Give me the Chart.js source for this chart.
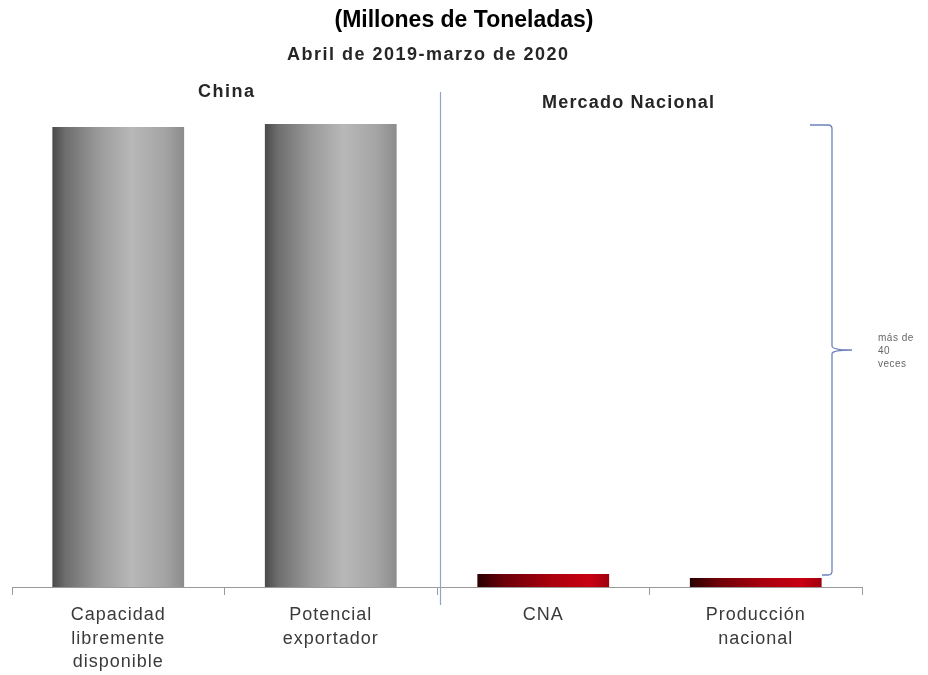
<!DOCTYPE html>
<html>
<head>
<meta charset="utf-8">
<script src="https://cdn.jsdelivr.net/npm/chart.js@4.4.1/dist/chart.umd.min.js"></script>
<style>
  html, body { margin: 0; padding: 0; background: #ffffff; }
  #wrap { width: 928px; height: 675px; position: relative; }
</style>
</head>
<body>
<div id="wrap"><canvas id="c" width="928" height="675"></canvas></div>
<script>
// ---- data ----
const categories = [
  ['Capacidad', 'libremente', 'disponible'],
  ['Potencial', 'exportador'],
  ['CNA'],
  ['Producción', 'nacional']
];
const groups = ['China', 'China', 'Mercado Nacional', 'Mercado Nacional'];
const values = [46.0, 46.3, 1.3, 0.9];   // millones de toneladas (estimated)
const titleText = '(Millones de Toneladas)';
const subtitleText = 'Abril de 2019-marzo de 2020';
const groupLabels = ['China', 'Mercado Nacional'];
const braceText = ['más de', '40', 'veces'];
const yMax = 50;

const BAR_PCT = 0.62;
const FONT = "'Liberation Sans', Arial, sans-serif";

function barFill(context) {
  const chart = context.chart;
  if (!chart.chartArea) return '#888';
  const xs = chart.scales.x;
  const cx = xs.getPixelForValue(context.dataIndex);
  const w = (xs.width / categories.length) * BAR_PCT;
  const g = chart.ctx.createLinearGradient(cx - w / 2, 0, cx + w / 2, 0);
  if (groups[context.dataIndex] === 'China') {
    g.addColorStop(0.00, '#4a4a4a');
    g.addColorStop(0.10, '#6e6e6e');
    g.addColorStop(0.35, '#9a9a9a');
    g.addColorStop(0.60, '#b8b8b8');
    g.addColorStop(0.85, '#a4a4a4');
    g.addColorStop(1.00, '#8c8c8c');
  } else {
    g.addColorStop(0.00, '#2a0000');
    g.addColorStop(0.20, '#6a0008');
    g.addColorStop(0.55, '#a8000e');
    g.addColorStop(0.85, '#c80012');
    g.addColorStop(1.00, '#a0000e');
  }
  return g;
}

const decor = {
  id: 'decor',
  beforeDraw(chart) {
    chart.ctx.letterSpacing = '1px';
  },
  afterDraw(chart) {
    const ctx = chart.ctx;
    const xs = chart.scales.x, ys = chart.scales.y;
    ctx.save();
    // separator between groups
    const sepX = Math.round((xs.getPixelForValue(1) + xs.getPixelForValue(2)) / 2) + 0.5 + 3;
    ctx.strokeStyle = '#8fa6c8';
    ctx.lineWidth = 1.2;
    ctx.beginPath();
    ctx.moveTo(sepX, 92);
    ctx.lineTo(sepX, ys.getPixelForValue(0) + 18);
    ctx.stroke();

    // brace
    const yTop = ys.getPixelForValue(values[1]) + 1;
    const yBot = ys.getPixelForValue(values[2]) + 1;
    const yMid = (yTop + yBot) / 2;
    const bx = 832;
    ctx.strokeStyle = '#6f82bb';
    ctx.lineWidth = 1.3;
    ctx.beginPath();
    ctx.moveTo(bx - 22, yTop);
    ctx.lineTo(bx - 4, yTop);
    ctx.quadraticCurveTo(bx, yTop, bx, yTop + 4);
    ctx.lineTo(bx, yMid - 4);
    ctx.quadraticCurveTo(bx, yMid, bx + 20, yMid);
    ctx.moveTo(bx + 20, yMid);
    ctx.quadraticCurveTo(bx, yMid, bx, yMid + 4);
    ctx.lineTo(bx, yBot - 4);
    ctx.quadraticCurveTo(bx, yBot, bx - 4, yBot);
    ctx.lineTo(bx - 10, yBot);
    ctx.stroke();

    // brace text
    ctx.letterSpacing = '0.5px';
    ctx.fillStyle = '#666666';
    ctx.font = '10px ' + FONT;
    ctx.textAlign = 'left';
    ctx.textBaseline = 'middle';
    braceText.forEach((t, i) => ctx.fillText(t, 878, yMid - 12 + i * 13));

    // titles
    ctx.textBaseline = 'alphabetic';
    ctx.letterSpacing = '0px';
    ctx.fillStyle = '#000000';
    ctx.font = 'bold 23px ' + FONT;
    ctx.textAlign = 'center';
    ctx.fillText(titleText, 464, 27);

    ctx.textAlign = 'left';
    ctx.fillStyle = '#262626';
    ctx.letterSpacing = '1.5px';
    ctx.font = 'bold 18px ' + FONT;
    ctx.fillText(subtitleText, 287, 60);
    ctx.fillText(groupLabels[0], 198, 97);
    ctx.letterSpacing = '1.2px';
    ctx.fillText(groupLabels[1], 542, 108);
    ctx.restore();
    ctx.letterSpacing = '0px';
  }
};

new Chart(document.getElementById('c'), {
  type: 'bar',
  data: {
    labels: categories,
    datasets: [{
      data: values,
      backgroundColor: barFill,
      borderWidth: 0,
      barPercentage: BAR_PCT,
      categoryPercentage: 1.0
    }]
  },
  options: {
    responsive: false,
    animation: false,
    events: [],
    layout: { padding: { left: 12, right: 66, top: 87, bottom: 0 } },
    plugins: {
      legend: { display: false },
      title: { display: false },
      tooltip: { enabled: false }
    },
    scales: {
      x: {
        offset: true,
        grid: {
          offset: true,
          display: true,
          drawOnChartArea: false,
          drawTicks: true,
          tickLength: 8,
          color: '#9a9a9a',
          lineWidth: 1
        },
        border: { display: true, color: '#9a9a9a', width: 1 },
        ticks: {
          color: '#3a3a3a',
          padding: 9,
          maxRotation: 0,
          autoSkip: false,
          font: { family: FONT, size: 18, lineHeight: 1.28 }
        },
        afterFit(scale) { scale.height = 88; }
      },
      y: {
        display: false,
        min: 0,
        max: yMax
      }
    }
  },
  plugins: [decor]
});
</script>
</body>
</html>
